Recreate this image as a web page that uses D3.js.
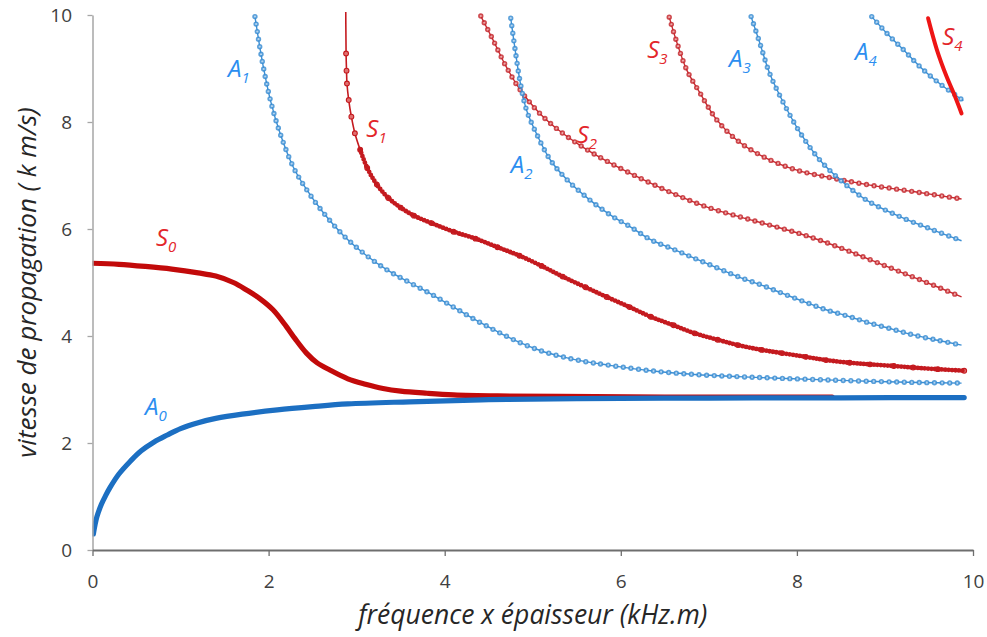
<!DOCTYPE html>
<html><head><meta charset="utf-8">
<script src="https://cdn.jsdelivr.net/npm/d3@7"></script>
<style>body{margin:0;background:#fff}svg{display:block}</style>
</head><body>
<svg id="chart" width="987" height="637"></svg>
<script>
// ---- data ----
const xTicks = [0, 2, 4, 6, 8, 10];
const yTicks = [0, 2, 4, 6, 8, 10];

const A0_x = [0.01,0.03,0.05,0.1,0.15,0.2,0.3,0.43,0.55,0.7,0.85,1.0,1.2,1.4,1.7,2.1,2.5,2.9,3.6,4.5,5.5,7.0,8.5,9.9];
const A0_y = [0.30,0.48,0.62,0.85,1.02,1.17,1.42,1.66,1.85,2.02,2.15,2.27,2.38,2.46,2.54,2.62,2.68,2.73,2.77,2.81,2.83,2.84,2.845,2.85];

const S0_x = [0,0.3,0.6,0.9,1.2,1.4,1.6,1.75,1.9,2.05,2.2,2.3,2.43,2.55,2.7,2.9,3.1,3.3,3.5,3.8,4.1,4.6,5.3,6.5,8.4];
const S0_y = [5.36,5.34,5.30,5.25,5.18,5.12,5.0,4.86,4.7,4.49,4.18,3.95,3.68,3.5,3.36,3.2,3.1,3.02,2.97,2.93,2.9,2.88,2.87,2.86,2.86];

const A1_x = [1.845,1.9,1.94,2.02,2.13,2.28,2.41,2.6,2.85,3.1,3.35,3.6,3.85,4.1,4.35,4.6,4.85,5.1,5.34,5.6,5.84,6.34,6.84,7.33,7.8,8.33,8.9,9.4,9.87];
const A1_y = [9.97,9.4,9.03,8.41,7.79,7.16,6.79,6.35,5.88,5.52,5.23,5.0,4.78,4.54,4.30,4.08,3.88,3.72,3.61,3.52,3.46,3.35,3.28,3.24,3.21,3.18,3.15,3.13,3.12];

const S1_x = [2.875,2.88,2.885,2.89,2.91,2.94,2.98,3.04,3.12,3.23,3.36,3.5,3.65,3.85,4.1,4.35,4.6,4.85,5.1,5.34,5.6,5.84,6.1,6.34,6.6,6.84,7.1,7.33,7.6,7.83,8.1,8.33,8.6,8.83,9.1,9.32,9.6,9.9];
const S1_y = [10.5,9.28,8.96,8.72,8.41,8.10,7.79,7.48,7.14,6.83,6.58,6.40,6.25,6.11,5.95,5.82,5.66,5.50,5.31,5.11,4.91,4.73,4.54,4.36,4.2,4.05,3.93,3.83,3.74,3.68,3.61,3.55,3.50,3.47,3.44,3.41,3.38,3.35];

const A2_x = [4.75,4.80,4.86,4.93,5.04,5.2,5.39,5.65,5.91,6.1,6.34,6.6,6.84,7.1,7.33,7.6,7.83,8.1,8.33,8.6,8.83,9.1,9.32,9.6,9.87];
const A2_y = [9.94,9.35,8.72,8.22,7.79,7.29,6.92,6.54,6.23,6.05,5.80,5.62,5.45,5.27,5.11,4.95,4.80,4.63,4.49,4.36,4.24,4.12,4.02,3.92,3.83];

const S2_x = [4.41,4.55,4.70,4.87,5.08,5.3,5.55,5.84,6.22,6.6,6.98,7.5,8.0,8.26,8.6,9.02,9.4,9.87];
const S2_y = [9.98,9.53,9.03,8.57,8.16,7.84,7.55,7.27,6.95,6.66,6.41,6.16,5.93,5.79,5.58,5.30,5.05,4.73];

const A3_x = [7.48,7.58,7.69,7.85,8.04,8.26,8.49,8.79,9.17,9.55,9.87];
const A3_y = [9.97,9.47,8.91,8.35,7.79,7.29,6.92,6.54,6.23,5.98,5.78];

const S3_x = [6.55,6.64,6.75,6.90,7.09,7.32,7.62,8.0,8.41,8.83,9.32,9.87];
const S3_y = [9.96,9.47,8.97,8.54,8.04,7.66,7.35,7.10,6.95,6.82,6.70,6.56];

const A4_x = [8.85,9.02,9.21,9.40,9.62,9.89];
const A4_y = [9.97,9.66,9.35,9.03,8.72,8.40];

const S4_x = [9.49,9.59,9.70,9.78,9.87];
const S4_y = [9.94,9.35,8.85,8.54,8.16];

// mode labels: letter, subscript, anchor in data units
const labelLetters = ["A","S","A","S","A","S","S","A","A","S"];
const labelSubs    = ["0","0","1","1","2","2","3","3","4","4"];
const labelX       = [0.596,0.72,1.54,3.11,4.75,5.50,6.30,7.23,8.66,9.65];
const labelY       = [2.52,5.68,8.84,7.72,7.05,7.61,9.20,9.03,9.16,9.44];

// ---- drawing ----
const svg = d3.select("#chart");
const x = d3.scaleLinear().domain([0, 10]).range([92.5, 973]);
const y = d3.scaleLinear().domain([0, 10]).range([550, 15]);
const FONT = "'Open Sans', 'Liberation Sans', sans-serif";

svg.append("defs").append("clipPath").attr("id","plot")
  .append("rect").attr("x", x(0)).attr("y", y(10) - 3)
  .attr("width", x(10) - x(0) + 6).attr("height", y(0) - y(10) + 3);

const zip = (xs, ys) => xs.map((v, i) => [v, ys[i]]);
const line = d3.line().x(d => x(d[0])).y(d => y(d[1])).curve(d3.curveCatmullRom.alpha(0.5));

const BLUE = "#3d8fd3", BLUE_IN = "#b4d4f0";
const RED = "#c62a30", RED_IN = "#eeaaaa";

const g = svg.append("g").attr("clip-path", "url(#plot)");

function beaded(data, col, inner, gap) {
  const d = line(data);
  g.append("path").attr("d", d).attr("fill","none").attr("stroke", col).attr("stroke-width", 1.4);
  g.append("path").attr("d", d).attr("fill","none").attr("stroke", col).attr("stroke-width", 5.4)
    .attr("stroke-linecap","round").attr("stroke-dasharray", "0 " + gap).attr("opacity", 0.85);
  g.append("path").attr("d", d).attr("fill","none").attr("stroke", inner).attr("stroke-width", 2.2)
    .attr("stroke-linecap","round").attr("stroke-dasharray", "0 " + gap);
}
function solid(data, col, w) {
  g.append("path").attr("d", line(data)).attr("fill","none").attr("stroke", col)
    .attr("stroke-width", w).attr("stroke-linecap","round").attr("stroke-linejoin","round");
}

beaded(zip(S2_x, S2_y), RED, RED_IN, 7.6);
beaded(zip(S3_x, S3_y), RED, RED_IN, 7.6);
beaded(zip(A1_x, A1_y), BLUE, BLUE_IN, 7.6);
beaded(zip(A2_x, A2_y), BLUE, BLUE_IN, 7.6);
beaded(zip(A3_x, A3_y), BLUE, BLUE_IN, 7.6);
beaded(zip(A4_x, A4_y), BLUE, BLUE_IN, 7.6);

// S1: thin line, markers at the sparse upper points, dense beads lower down
(function(){
  const S1 = zip(S1_x, S1_y);
  const col = "#c41a1f";
  g.append("path").attr("d", line(S1)).attr("fill","none").attr("stroke", col).attr("stroke-width", 1.6);
  g.selectAll("circle.s1").data(S1.filter(d => d[1] <= 10)).join("circle").attr("class","s1")
    .attr("cx", d => x(d[0])).attr("cy", d => y(d[1])).attr("r", 2.4)
    .attr("fill", "#e07070").attr("stroke", col).attr("stroke-width", 1.1);
  const lower = S1.filter(d => d[1] < 7.6);
  g.append("path").attr("d", line(lower)).attr("fill","none").attr("stroke", col).attr("stroke-width", 4.8)
    .attr("stroke-linecap","round").attr("stroke-dasharray", "0 3.4");
})();
solid(zip(S0_x, S0_y), "#c20a0a", 5.2);
solid(zip(A0_x, A0_y), "#1c6fc2", 5.2);
solid(zip(S4_x, S4_y), "#ee1515", 4);

// axes
const xAxis = d3.axisBottom(x).tickValues(xTicks).tickSize(6).tickSizeOuter(0).tickPadding(19).tickFormat(d3.format("d"));
const gx = svg.append("g").attr("transform", `translate(0,${y(0)})`).call(xAxis);
gx.select(".domain").attr("stroke", "#6e6e6e").attr("stroke-width", 2);
gx.selectAll(".tick line").attr("stroke", "#6e6e6e").attr("stroke-width", 1.3);
gx.selectAll("text").attr("font-family", FONT).attr("font-size", 19).attr("fill", "#404040");

const yAxis = d3.axisLeft(y).tickValues(yTicks).tickSize(5).tickSizeOuter(0).tickPadding(15.5).tickFormat(d3.format("d"));
const gy = svg.append("g").attr("transform", `translate(${x(0)},0)`).call(yAxis);
gy.select(".domain").attr("stroke", "#a6a6a6").attr("stroke-width", 1.5);
gy.selectAll(".tick line").attr("stroke", "#a6a6a6").attr("stroke-width", 1.3);
gy.selectAll("text").attr("font-family", FONT).attr("font-size", 19).attr("fill", "#404040");
gx.raise();

// axis titles
svg.append("text").attr("x", (x(0) + x(10)) / 2).attr("y", 624)
  .attr("text-anchor", "middle").attr("font-family", FONT).attr("font-style", "italic")
  .attr("font-size", 26.5).attr("fill", "#262626").text("fréquence x épaisseur (kHz.m)");
svg.append("text").attr("transform", `translate(36,${(y(0) + y(10)) / 2}) rotate(-90)`)
  .attr("text-anchor", "middle").attr("font-family", FONT).attr("font-style", "italic")
  .attr("font-size", 26).attr("fill", "#262626").text("vitesse de propagation ( k m/s)");

// mode labels
labelLetters.forEach((L, i) => {
  const col = L === "A" ? "#2b8ef0" : "#e3262a";
  const t = svg.append("text").attr("x", x(labelX[i])).attr("y", y(labelY[i]))
    .attr("font-family", FONT).attr("font-style", "italic").attr("fill", col);
  t.append("tspan").attr("font-size", 24).text(L);
  t.append("tspan").attr("font-size", 15).attr("dy", 6).text(labelSubs[i]);
});
</script>
</body></html>
